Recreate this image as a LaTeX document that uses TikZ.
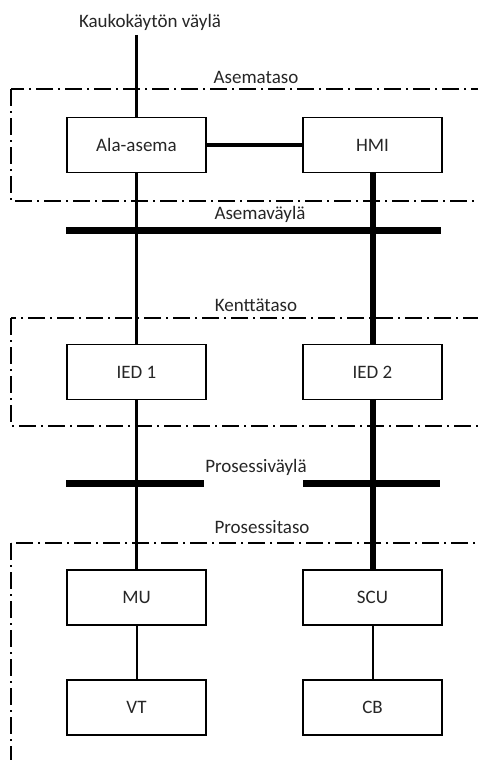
\documentclass[tikz,border=0pt]{standalone}
\usepackage{fontspec}
\setmainfont{Carlito}
\usepackage{tikz}

\begin{document}
\begin{tikzpicture}[x=1pt, y=-1pt,
  teksti/.style={font=\fontsize{19}{23}\selectfont, text=black!85, inner sep=0pt},
  laite/.style={draw, line width=1.5pt, minimum width=139pt, minimum height=55pt, teksti},
  taso/.style={line width=1.3pt, dash pattern=on 17pt off 5pt on 2pt off 5pt},
  vayla/.style={line width=7pt},
  ohut/.style={line width=2pt},
  keski/.style={line width=3.5pt},
  paksu/.style={line width=6pt}]
\useasboundingbox (0,0) rectangle (478,760);
\draw[taso] (11,89) rectangle (500,201);
\draw[taso] (11,318) rectangle (500,426);
\draw[taso] (11,543) rectangle (500,790);
\node[teksti] (kauko) at (150,22) {Kaukokäytön väylä};
\node[teksti] (asemataso) at (256,77) {Asemataso};
\node[teksti] (asemavayla) at (260,214) {Asemaväylä};
\node[teksti] (kenttataso) at (256,305) {Kenttätaso};
\node[teksti] (prosvayla) at (256,467) {Prosessiväylä};
\node[teksti] (prostaso) at (262,527) {Prosessitaso};
\node[laite] (ala) at (136.5,145) {Ala-asema};
\node[laite] (hmi) at (372.5,145) {HMI};
\node[laite] (ied1) at (136.5,372) {IED 1};
\node[laite] (ied2) at (372.5,372) {IED 2};
\node[laite] (mu) at (136.5,597.5) {MU};
\node[laite] (scu) at (372.5,597.5) {SCU};
\node[laite] (vt) at (136.5,707.5) {VT};
\node[laite] (cb) at (372.5,707.5) {CB};
\coordinate (av1) at (66,230);
\coordinate (av2) at (441,230);
\coordinate (pv1) at (66,483);
\coordinate (pv2) at (204,483);
\coordinate (pv3) at (303,483);
\coordinate (pv4) at (440,483);
\coordinate (kv) at (136.5,35);
\draw[vayla] (av1) -- (av2);
\draw[vayla] (pv1) -- (pv2);
\draw[vayla] (pv3) -- (pv4);
\draw[keski] (kv) -- (ala.north);
\draw[keski] (ala.east) -- (hmi.west);
\draw[keski] (ala.south) -- (ied1.north);
\draw[keski] (ied1.south) -- (mu.north);
\draw[paksu] (hmi.south) -- (ied2.north);
\draw[paksu] (ied2.south) -- (scu.north);
\draw[ohut] (mu.south) -- (vt.north);
\draw[ohut] (scu.south) -- (cb.north);
\end{tikzpicture}
\end{document}
